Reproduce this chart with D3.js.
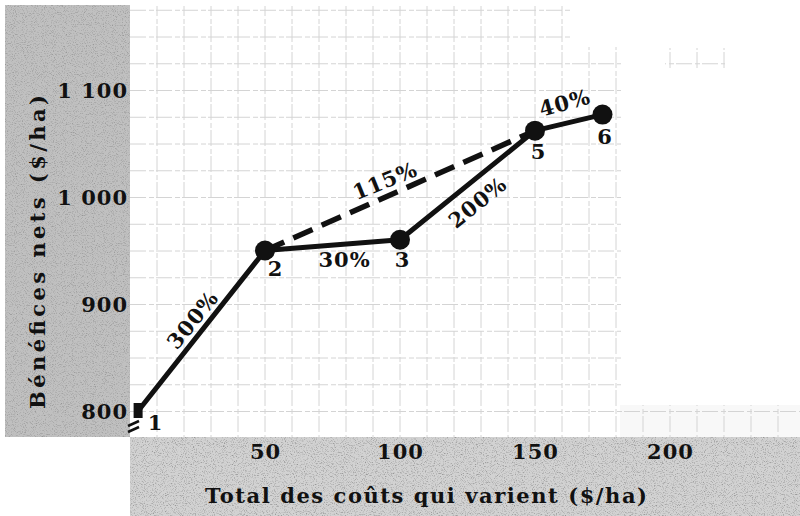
<!DOCTYPE html>
<html>
<head>
<meta charset="utf-8">
<script src="https://cdn.jsdelivr.net/npm/d3@7"></script>
<style>
  html, body { margin: 0; padding: 0; background: #fff; }
  svg text { font-family: "DejaVu Serif", "Liberation Serif", serif; font-weight: bold; fill: #111; }
</style>
</head>
<body>
<svg id="chart"></svg>
<script>
"use strict";

// data
var costs = [3, 50, 100, 150, 175];
var benefits = [800, 950, 960, 1062, 1077];
var pointNames = ['1', '2', '3', '5', '6'];
var segmentRates = ['300%', '30%', '200%', '40%'];
var dominatedRate = '115%';
var xTicks = [50, 100, 150, 200];
var yTicks = [800, 900, 1000, 1100];

var Chart = {
  width: 800,
  height: 516,

  init: function init() {
    Chart.svg = d3.select('#chart')
      .attr('width', Chart.width)
      .attr('height', Chart.height);

    Chart.x = d3.scaleLinear().domain([0, 200]).range([130, 670]);
    Chart.y = d3.scaleLinear().domain([800, 1100]).range([411, 90]);

    Chart.points = costs.map(function (c, i) {
      return { x: Chart.x(c), y: Chart.y(benefits[i]), name: pointNames[i] };
    });

    Chart.defs();
    Chart.bands();
    Chart.grid();
    Chart.axes();
    Chart.lines();
    Chart.labels();
  },

  defs: function () {
    var defs = Chart.svg.append('defs');

    var grain = defs.append('filter')
      .attr('id', 'grain')
      .attr('x', 0).attr('y', 0).attr('width', 1).attr('height', 1);
    grain.append('feTurbulence')
      .attr('type', 'fractalNoise')
      .attr('baseFrequency', 0.9)
      .attr('numOctaves', 2)
      .attr('seed', 7);
    grain.append('feColorMatrix')
      .attr('type', 'matrix')
      .attr('values', '0 0 0 0 0  0 0 0 0 0  0 0 0 0 0  -2.6 0 0 0 1.3');

    // the scan only kept the grid in a few patches
    var clip = defs.append('clipPath').attr('id', 'grid-clip');
    clip.append('rect').attr('x', 130).attr('y', 47).attr('width', 491).attr('height', 390);
    clip.append('rect').attr('x', 130).attr('y', 6).attr('width', 441).attr('height', 42);
    clip.append('rect').attr('x', 620).attr('y', 405).attr('width', 180).attr('height', 32);
    clip.append('rect').attr('x', 665).attr('y', 48).attr('width', 60).attr('height', 20);
  },

  bands: function () {
    var svg = Chart.svg;

    svg.append('rect')
      .attr('x', 5).attr('y', 5)
      .attr('width', 125).attr('height', 432)
      .attr('fill', '#c0c0c0');
    svg.append('rect')
      .attr('x', 130).attr('y', 437)
      .attr('width', 670).attr('height', 79)
      .attr('fill', '#d2d2d2');

    svg.append('rect')
      .attr('x', 5).attr('y', 5)
      .attr('width', 125).attr('height', 432)
      .attr('filter', 'url(#grain)')
      .attr('opacity', 0.22);
    svg.append('rect')
      .attr('x', 130).attr('y', 437)
      .attr('width', 670).attr('height', 79)
      .attr('filter', 'url(#grain)')
      .attr('opacity', 0.3);

    svg.append('rect')
      .attr('x', 620).attr('y', 405)
      .attr('width', 180).attr('height', 32)
      .attr('fill', '#f8f8f8');
  },

  grid: function () {
    var g = Chart.svg.append('g')
      .attr('clip-path', 'url(#grid-clip)')
      .attr('stroke', '#d4d4d4')
      .attr('stroke-width', 1)
      .attr('stroke-dasharray', '16,3,5,2');

    g.selectAll('line.v')
      .data(d3.range(10, 250, 10))
      .enter().append('line')
      .attr('class', 'v')
      .attr('x1', function (d) { return Chart.x(d); })
      .attr('x2', function (d) { return Chart.x(d); })
      .attr('y1', 0).attr('y2', 437);

    g.selectAll('line.h')
      .data(d3.range(800, 1200, 25))
      .enter().append('line')
      .attr('class', 'h')
      .attr('x1', 130).attr('x2', 800)
      .attr('y1', function (d) { return Chart.y(d) + 0.5; })
      .attr('y2', function (d) { return Chart.y(d) + 0.5; });
  },

  axes: function () {
    var svg = Chart.svg;

    var xAxis = d3.axisBottom(Chart.x)
      .tickValues(xTicks)
      .tickSize(0)
      .tickPadding(0)
      .tickFormat(d3.format('d'));
    var gx = svg.append('g')
      .attr('transform', 'translate(0,444)')
      .call(xAxis);
    gx.select('.domain').remove();
    gx.selectAll('text')
      .attr('dy', '0.71em')
      .style('font-size', '21px')
      .style('letter-spacing', '1px')
      .attr('fill', '#111');

    var yAxis = d3.axisLeft(Chart.y)
      .tickValues(yTicks)
      .tickSize(0)
      .tickPadding(0)
      .tickFormat(function (d) { return d3.format(',')(d).replace(',', ' '); });
    var gy = svg.append('g')
      .attr('transform', 'translate(128,0)')
      .call(yAxis);
    gy.select('.domain').remove();
    gy.selectAll('text')
      .attr('dy', '0.36em')
      .style('font-size', '21px')
      .style('letter-spacing', '1px')
      .attr('fill', '#111');

    svg.append('text')
      .attr('transform', 'translate(45,252) rotate(-90)')
      .attr('text-anchor', 'middle')
      .attr('textLength', 314)
      .attr('lengthAdjust', 'spacing')
      .style('font-size', '21px')
      .text('Bénéfices nets ($/ha)');

    svg.append('text')
      .attr('x', 426).attr('y', 503)
      .attr('text-anchor', 'middle')
      .attr('textLength', 442)
      .attr('lengthAdjust', 'spacing')
      .style('font-size', '21px')
      .text('Total des coûts qui varient ($/ha)');

    // axis break
    svg.selectAll('line.brk')
      .data([0, 6])
      .enter().append('line')
      .attr('class', 'brk')
      .attr('x1', 128)
      .attr('y1', function (d) { return 426 + d; })
      .attr('x2', 139)
      .attr('y2', function (d) { return 421 + d; })
      .attr('stroke', '#111')
      .attr('stroke-width', 2.5);
  },

  lines: function () {
    var svg = Chart.svg;
    var pts = Chart.points;

    var line = d3.line()
      .x(function (d) { return d.x; })
      .y(function (d) { return d.y; });

    svg.append('path')
      .datum([pts[1], pts[3]])
      .attr('d', line)
      .attr('fill', 'none')
      .attr('stroke', '#111')
      .attr('stroke-width', 5.5)
      .attr('stroke-dasharray', '21,10');

    svg.append('path')
      .datum(pts)
      .attr('d', line)
      .attr('fill', 'none')
      .attr('stroke', '#111')
      .attr('stroke-width', 5)
      .attr('stroke-linejoin', 'round');

    svg.append('rect')
      .attr('x', pts[0].x - 4.5)
      .attr('y', pts[0].y - 8)
      .attr('width', 9)
      .attr('height', 15)
      .attr('fill', '#111');

    svg.selectAll('circle.pt')
      .data(pts.slice(1))
      .enter().append('circle')
      .attr('class', 'pt')
      .attr('cx', function (d) { return d.x; })
      .attr('cy', function (d) { return d.y; })
      .attr('r', 10)
      .attr('fill', '#111');
  },

  labels: function () {
    var svg = Chart.svg;
    var pts = Chart.points;

    var nameOffsets = [[17, 19], [10, 25], [2, 27], [3, 28], [2, 29]];
    svg.selectAll('text.name')
      .data(pts)
      .enter().append('text')
      .attr('class', 'name')
      .attr('x', function (d, i) { return d.x + nameOffsets[i][0]; })
      .attr('y', function (d, i) { return d.y + nameOffsets[i][1]; })
      .attr('text-anchor', 'middle')
      .style('font-size', '21px')
      .text(function (d) { return d.name; });

    // rate labels sit near the middle of their segment
    var rateStyle = [
      { dx: -9, dy: -11, rot: -51 },
      { dx: 12, dy: 14, rot: 0 },
      { dx: 10, dy: 17, rot: -39 },
      { dx: -4, dy: -20, rot: -15 }
    ];
    var rates = segmentRates.map(function (r, i) {
      return { text: r, a: pts[i], b: pts[i + 1], s: rateStyle[i] };
    });
    rates.push({ text: dominatedRate, a: pts[1], b: pts[3], s: { dx: -15, dy: -10, rot: -22 } });

    svg.selectAll('text.rate')
      .data(rates)
      .enter().append('text')
      .attr('class', 'rate')
      .attr('transform', function (d) {
        var mx = (d.a.x + d.b.x) / 2 + d.s.dx;
        var my = (d.a.y + d.b.y) / 2 + d.s.dy;
        return 'translate(' + mx + ',' + my + ') rotate(' + d.s.rot + ')';
      })
      .attr('text-anchor', 'middle')
      .attr('dy', '0.36em')
      .style('font-size', '21px')
      .style('letter-spacing', '1px')
      .text(function (d) { return d.text; });
  }
};

Chart.init();
</script>
</body>
</html>
